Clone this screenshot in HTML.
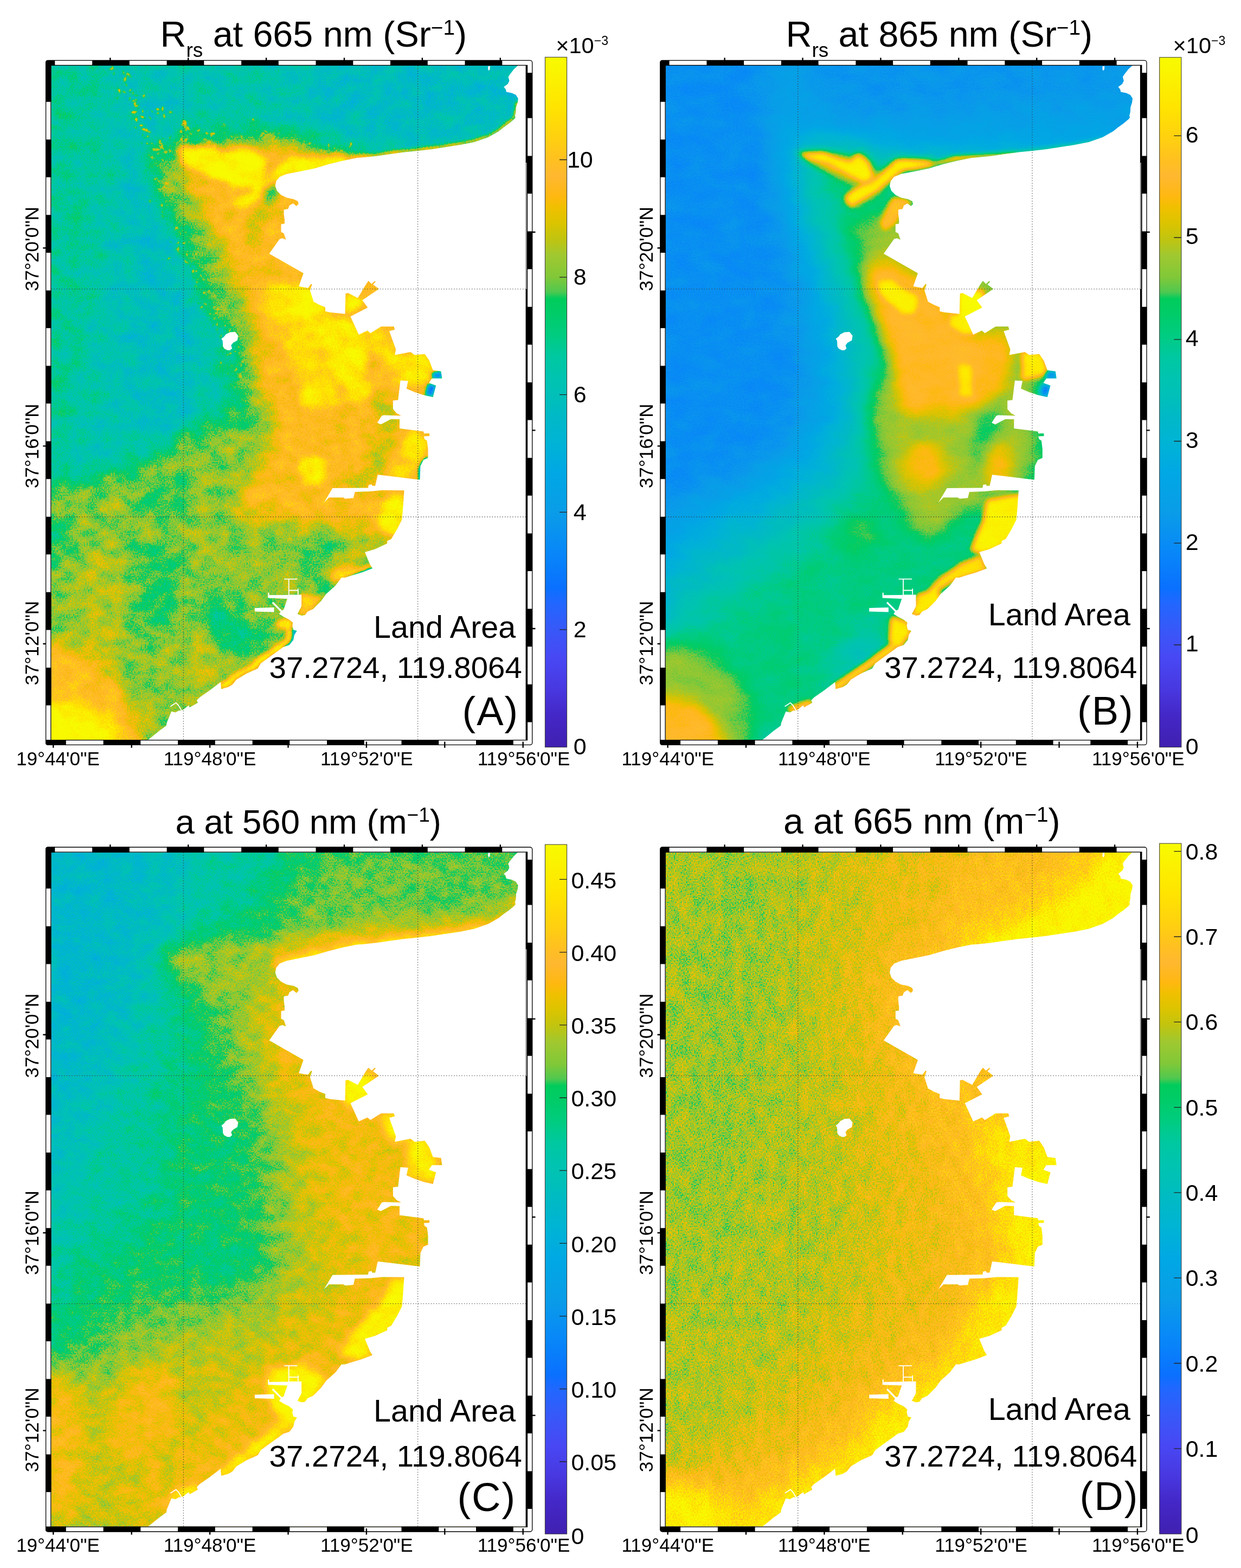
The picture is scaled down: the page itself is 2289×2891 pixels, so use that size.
<!DOCTYPE html>
<html lang="en"><head><meta charset="utf-8"><title>Rrs and absorption maps</title>
<style>html,body{margin:0;padding:0;background:#fff}body{width:2289px;height:2891px;overflow:hidden}svg{display:block}text{font-family:"Liberation Sans",sans-serif;fill:#000}</style>
</head><body>
<svg width="2289" height="2891" viewBox="0 0 2289 2891">
<defs>
<linearGradient id="cb" x1="0" y1="1" x2="0" y2="0">
<stop offset="0.000" stop-color="#4020b0"/>
<stop offset="0.048" stop-color="#4428c8"/>
<stop offset="0.084" stop-color="#4838e0"/>
<stop offset="0.129" stop-color="#4848f4"/>
<stop offset="0.170" stop-color="#3858f8"/>
<stop offset="0.211" stop-color="#2068ff"/>
<stop offset="0.230" stop-color="#0a70ff"/>
<stop offset="0.284" stop-color="#0888f8"/>
<stop offset="0.340" stop-color="#0a9ce8"/>
<stop offset="0.399" stop-color="#00a8e4"/>
<stop offset="0.445" stop-color="#00b4d4"/>
<stop offset="0.476" stop-color="#00b8c8"/>
<stop offset="0.511" stop-color="#00c0b8"/>
<stop offset="0.536" stop-color="#00c4b0"/>
<stop offset="0.567" stop-color="#00c8a0"/>
<stop offset="0.598" stop-color="#00cc80"/>
<stop offset="0.629" stop-color="#00cc68"/>
<stop offset="0.650" stop-color="#00cc5c"/>
<stop offset="0.660" stop-color="#50c850"/>
<stop offset="0.681" stop-color="#80c838"/>
<stop offset="0.713" stop-color="#a0c830"/>
<stop offset="0.736" stop-color="#c0c410"/>
<stop offset="0.760" stop-color="#dcc400"/>
<stop offset="0.783" stop-color="#f0c000"/>
<stop offset="0.798" stop-color="#ffb810"/>
<stop offset="0.828" stop-color="#ffb830"/>
<stop offset="0.851" stop-color="#ffc020"/>
<stop offset="0.882" stop-color="#ffd010"/>
<stop offset="0.928" stop-color="#ffe400"/>
<stop offset="1.000" stop-color="#f8fb00"/>
</linearGradient>
<filter id="cmA" filterUnits="userSpaceOnUse" x="92.5" y="119" width="880.5" height="1247" color-interpolation-filters="sRGB">
<feTurbulence type="fractalNoise" baseFrequency="0.4" numOctaves="1" seed="3" result="n"/>
<feColorMatrix in="n" type="matrix" values="1 0 0 0 0 1 0 0 0 0 1 0 0 0 0 0 0 0 0 1" result="ng"/>
<feComposite in="SourceGraphic" in2="ng" operator="arithmetic" k1="0" k2="1" k3="0.18" k4="-0.09" result="v"/>
<feTurbulence type="fractalNoise" baseFrequency="0.031 0.039" numOctaves="3" seed="23" result="m"/>
<feColorMatrix in="m" type="matrix" values="1 0 0 0 0 1 0 0 0 0 1 0 0 0 0 0 0 0 0 1" result="mg"/>
<feComposite in="v" in2="mg" operator="arithmetic" k1="0" k2="1" k3="0.16" k4="-0.08" result="v"/>
<feComponentTransfer in="v"><feFuncR type="table" tableValues="0.251 0.256 0.261 0.266 0.273 0.280 0.282 0.282 0.282 0.265 0.241 0.215 0.179 0.144 0.090 0.039 0.036 0.034 0.032 0.033 0.035 0.038 0.037 0.026 0.016 0.006 0.000 0.000 0.000 0.000 0.000 0.000 0.000 0.000 0.000 0.000 0.000 0.000 0.000 0.000 0.000 0.000 0.196 0.420 0.527 0.589 0.659 0.744 0.817 0.882 0.935 0.996 1.000 1.000 1.000 1.000 1.000 1.000 1.000 1.000 0.996 0.990 0.984 0.979 0.973"/><feFuncG type="table" tableValues="0.125 0.136 0.146 0.156 0.182 0.209 0.233 0.255 0.277 0.300 0.324 0.348 0.372 0.396 0.421 0.447 0.474 0.501 0.529 0.551 0.573 0.595 0.615 0.627 0.640 0.652 0.666 0.682 0.698 0.710 0.718 0.729 0.743 0.756 0.766 0.774 0.782 0.790 0.798 0.800 0.800 0.800 0.790 0.784 0.784 0.784 0.780 0.770 0.769 0.765 0.754 0.724 0.722 0.722 0.743 0.770 0.802 0.830 0.857 0.884 0.906 0.926 0.945 0.965 0.984"/><feFuncB type="table" tableValues="0.690 0.721 0.751 0.782 0.822 0.863 0.895 0.923 0.950 0.961 0.967 0.974 0.984 0.995 1.000 0.998 0.990 0.982 0.974 0.958 0.941 0.923 0.909 0.905 0.900 0.896 0.884 0.863 0.842 0.819 0.795 0.769 0.741 0.716 0.696 0.668 0.637 0.582 0.519 0.467 0.420 0.382 0.331 0.261 0.213 0.198 0.157 0.072 0.026 0.000 0.000 0.058 0.123 0.188 0.145 0.109 0.077 0.051 0.030 0.008 0.000 0.000 0.000 0.000 0.000"/><feFuncA type="linear" slope="0" intercept="1"/></feComponentTransfer>
</filter>
<filter id="cmB" filterUnits="userSpaceOnUse" x="92.5" y="119" width="880.5" height="1247" color-interpolation-filters="sRGB">
<feTurbulence type="fractalNoise" baseFrequency="0.4" numOctaves="1" seed="5" result="n"/>
<feColorMatrix in="n" type="matrix" values="1 0 0 0 0 1 0 0 0 0 1 0 0 0 0 0 0 0 0 1" result="ng"/>
<feComposite in="SourceGraphic" in2="ng" operator="arithmetic" k1="0" k2="1" k3="0.07" k4="-0.035" result="v"/>
<feTurbulence type="fractalNoise" baseFrequency="0.021 0.033" numOctaves="3" seed="25" result="m"/>
<feColorMatrix in="m" type="matrix" values="1 0 0 0 0 1 0 0 0 0 1 0 0 0 0 0 0 0 0 1" result="mg"/>
<feComposite in="v" in2="mg" operator="arithmetic" k1="0" k2="1" k3="0.06" k4="-0.03" result="v"/>
<feComponentTransfer in="v"><feFuncR type="table" tableValues="0.251 0.256 0.261 0.266 0.273 0.280 0.282 0.282 0.282 0.265 0.241 0.215 0.179 0.144 0.090 0.039 0.036 0.034 0.032 0.033 0.035 0.038 0.037 0.026 0.016 0.006 0.000 0.000 0.000 0.000 0.000 0.000 0.000 0.000 0.000 0.000 0.000 0.000 0.000 0.000 0.000 0.000 0.196 0.420 0.527 0.589 0.659 0.744 0.817 0.882 0.935 0.996 1.000 1.000 1.000 1.000 1.000 1.000 1.000 1.000 0.996 0.990 0.984 0.979 0.973"/><feFuncG type="table" tableValues="0.125 0.136 0.146 0.156 0.182 0.209 0.233 0.255 0.277 0.300 0.324 0.348 0.372 0.396 0.421 0.447 0.474 0.501 0.529 0.551 0.573 0.595 0.615 0.627 0.640 0.652 0.666 0.682 0.698 0.710 0.718 0.729 0.743 0.756 0.766 0.774 0.782 0.790 0.798 0.800 0.800 0.800 0.790 0.784 0.784 0.784 0.780 0.770 0.769 0.765 0.754 0.724 0.722 0.722 0.743 0.770 0.802 0.830 0.857 0.884 0.906 0.926 0.945 0.965 0.984"/><feFuncB type="table" tableValues="0.690 0.721 0.751 0.782 0.822 0.863 0.895 0.923 0.950 0.961 0.967 0.974 0.984 0.995 1.000 0.998 0.990 0.982 0.974 0.958 0.941 0.923 0.909 0.905 0.900 0.896 0.884 0.863 0.842 0.819 0.795 0.769 0.741 0.716 0.696 0.668 0.637 0.582 0.519 0.467 0.420 0.382 0.331 0.261 0.213 0.198 0.157 0.072 0.026 0.000 0.000 0.058 0.123 0.188 0.145 0.109 0.077 0.051 0.030 0.008 0.000 0.000 0.000 0.000 0.000"/><feFuncA type="linear" slope="0" intercept="1"/></feComponentTransfer>
</filter>
<filter id="cmC" filterUnits="userSpaceOnUse" x="92.5" y="119" width="880.5" height="1247" color-interpolation-filters="sRGB">
<feTurbulence type="fractalNoise" baseFrequency="0.4" numOctaves="1" seed="7" result="n"/>
<feColorMatrix in="n" type="matrix" values="1 0 0 0 0 1 0 0 0 0 1 0 0 0 0 0 0 0 0 1" result="ng"/>
<feComposite in="SourceGraphic" in2="ng" operator="arithmetic" k1="0" k2="1" k3="0.18" k4="-0.09" result="v"/>
<feTurbulence type="fractalNoise" baseFrequency="0.037 0.045" numOctaves="3" seed="27" result="m"/>
<feColorMatrix in="m" type="matrix" values="1 0 0 0 0 1 0 0 0 0 1 0 0 0 0 0 0 0 0 1" result="mg"/>
<feComposite in="v" in2="mg" operator="arithmetic" k1="0" k2="1" k3="0.13" k4="-0.065" result="v"/>
<feComponentTransfer in="v"><feFuncR type="table" tableValues="0.251 0.256 0.261 0.266 0.273 0.280 0.282 0.282 0.282 0.265 0.241 0.215 0.179 0.144 0.090 0.039 0.036 0.034 0.032 0.033 0.035 0.038 0.037 0.026 0.016 0.006 0.000 0.000 0.000 0.000 0.000 0.000 0.000 0.000 0.000 0.000 0.000 0.000 0.000 0.000 0.000 0.000 0.196 0.420 0.527 0.589 0.659 0.744 0.817 0.882 0.935 0.996 1.000 1.000 1.000 1.000 1.000 1.000 1.000 1.000 0.996 0.990 0.984 0.979 0.973"/><feFuncG type="table" tableValues="0.125 0.136 0.146 0.156 0.182 0.209 0.233 0.255 0.277 0.300 0.324 0.348 0.372 0.396 0.421 0.447 0.474 0.501 0.529 0.551 0.573 0.595 0.615 0.627 0.640 0.652 0.666 0.682 0.698 0.710 0.718 0.729 0.743 0.756 0.766 0.774 0.782 0.790 0.798 0.800 0.800 0.800 0.790 0.784 0.784 0.784 0.780 0.770 0.769 0.765 0.754 0.724 0.722 0.722 0.743 0.770 0.802 0.830 0.857 0.884 0.906 0.926 0.945 0.965 0.984"/><feFuncB type="table" tableValues="0.690 0.721 0.751 0.782 0.822 0.863 0.895 0.923 0.950 0.961 0.967 0.974 0.984 0.995 1.000 0.998 0.990 0.982 0.974 0.958 0.941 0.923 0.909 0.905 0.900 0.896 0.884 0.863 0.842 0.819 0.795 0.769 0.741 0.716 0.696 0.668 0.637 0.582 0.519 0.467 0.420 0.382 0.331 0.261 0.213 0.198 0.157 0.072 0.026 0.000 0.000 0.058 0.123 0.188 0.145 0.109 0.077 0.051 0.030 0.008 0.000 0.000 0.000 0.000 0.000"/><feFuncA type="linear" slope="0" intercept="1"/></feComponentTransfer>
</filter>
<filter id="cmD" filterUnits="userSpaceOnUse" x="92.5" y="119" width="880.5" height="1247" color-interpolation-filters="sRGB">
<feTurbulence type="fractalNoise" baseFrequency="0.4" numOctaves="1" seed="9" result="n"/>
<feColorMatrix in="n" type="matrix" values="1 0 0 0 0 1 0 0 0 0 1 0 0 0 0 0 0 0 0 1" result="ng"/>
<feComposite in="SourceGraphic" in2="ng" operator="arithmetic" k1="0" k2="1" k3="0.3" k4="-0.15" result="v"/>
<feTurbulence type="fractalNoise" baseFrequency="0.05 0.03" numOctaves="3" seed="29" result="m"/>
<feColorMatrix in="m" type="matrix" values="1 0 0 0 0 1 0 0 0 0 1 0 0 0 0 0 0 0 0 1" result="mg"/>
<feComposite in="v" in2="mg" operator="arithmetic" k1="0" k2="1" k3="0.12" k4="-0.06" result="v"/>
<feComponentTransfer in="v"><feFuncR type="table" tableValues="0.251 0.256 0.261 0.266 0.273 0.280 0.282 0.282 0.282 0.265 0.241 0.215 0.179 0.144 0.090 0.039 0.036 0.034 0.032 0.033 0.035 0.038 0.037 0.026 0.016 0.006 0.000 0.000 0.000 0.000 0.000 0.000 0.000 0.000 0.000 0.000 0.000 0.000 0.000 0.000 0.000 0.000 0.196 0.420 0.527 0.589 0.659 0.744 0.817 0.882 0.935 0.996 1.000 1.000 1.000 1.000 1.000 1.000 1.000 1.000 0.996 0.990 0.984 0.979 0.973"/><feFuncG type="table" tableValues="0.125 0.136 0.146 0.156 0.182 0.209 0.233 0.255 0.277 0.300 0.324 0.348 0.372 0.396 0.421 0.447 0.474 0.501 0.529 0.551 0.573 0.595 0.615 0.627 0.640 0.652 0.666 0.682 0.698 0.710 0.718 0.729 0.743 0.756 0.766 0.774 0.782 0.790 0.798 0.800 0.800 0.800 0.790 0.784 0.784 0.784 0.780 0.770 0.769 0.765 0.754 0.724 0.722 0.722 0.743 0.770 0.802 0.830 0.857 0.884 0.906 0.926 0.945 0.965 0.984"/><feFuncB type="table" tableValues="0.690 0.721 0.751 0.782 0.822 0.863 0.895 0.923 0.950 0.961 0.967 0.974 0.984 0.995 1.000 0.998 0.990 0.982 0.974 0.958 0.941 0.923 0.909 0.905 0.900 0.896 0.884 0.863 0.842 0.819 0.795 0.769 0.741 0.716 0.696 0.668 0.637 0.582 0.519 0.467 0.420 0.382 0.331 0.261 0.213 0.198 0.157 0.072 0.026 0.000 0.000 0.058 0.123 0.188 0.145 0.109 0.077 0.051 0.030 0.008 0.000 0.000 0.000 0.000 0.000"/><feFuncA type="linear" slope="0" intercept="1"/></feComponentTransfer>
</filter>
<filter id="b1" filterUnits="userSpaceOnUse" x="-55.5" y="-29" width="1176.5" height="1543" color-interpolation-filters="sRGB"><feGaussianBlur stdDeviation="1"/></filter>
<filter id="b3" filterUnits="userSpaceOnUse" x="-55.5" y="-29" width="1176.5" height="1543" color-interpolation-filters="sRGB"><feGaussianBlur stdDeviation="3"/></filter>
<filter id="b5" filterUnits="userSpaceOnUse" x="-55.5" y="-29" width="1176.5" height="1543" color-interpolation-filters="sRGB"><feGaussianBlur stdDeviation="5"/></filter>
<filter id="b7" filterUnits="userSpaceOnUse" x="-55.5" y="-29" width="1176.5" height="1543" color-interpolation-filters="sRGB"><feGaussianBlur stdDeviation="7"/></filter>
<filter id="b8" filterUnits="userSpaceOnUse" x="-55.5" y="-29" width="1176.5" height="1543" color-interpolation-filters="sRGB"><feGaussianBlur stdDeviation="8"/></filter>
<filter id="b12" filterUnits="userSpaceOnUse" x="-55.5" y="-29" width="1176.5" height="1543" color-interpolation-filters="sRGB"><feGaussianBlur stdDeviation="12"/></filter>
<filter id="b14" filterUnits="userSpaceOnUse" x="-55.5" y="-29" width="1176.5" height="1543" color-interpolation-filters="sRGB"><feGaussianBlur stdDeviation="14"/></filter>
<filter id="b15" filterUnits="userSpaceOnUse" x="-55.5" y="-29" width="1176.5" height="1543" color-interpolation-filters="sRGB"><feGaussianBlur stdDeviation="15"/></filter>
<filter id="b20" filterUnits="userSpaceOnUse" x="-55.5" y="-29" width="1176.5" height="1543" color-interpolation-filters="sRGB"><feGaussianBlur stdDeviation="20"/></filter>
<filter id="b25" filterUnits="userSpaceOnUse" x="-55.5" y="-29" width="1176.5" height="1543" color-interpolation-filters="sRGB"><feGaussianBlur stdDeviation="25"/></filter>
<filter id="b30" filterUnits="userSpaceOnUse" x="-55.5" y="-29" width="1176.5" height="1543" color-interpolation-filters="sRGB"><feGaussianBlur stdDeviation="30"/></filter>
<filter id="b35" filterUnits="userSpaceOnUse" x="-55.5" y="-29" width="1176.5" height="1543" color-interpolation-filters="sRGB"><feGaussianBlur stdDeviation="35"/></filter>
<clipPath id="fo"><rect x="83.9" y="110.7" width="898.4" height="1263.3" rx="4.5"/></clipPath>
<clipPath id="pc"><rect x="94.5" y="121" width="876.5" height="1243"/></clipPath>
<g id="land" fill="#fff" stroke="none">
<polygon points="955.2,121 947.8,127.8 939.9,138 937.6,141.7 939.5,149.1 936.7,154.7 929.3,160.3 933,164.9 933.9,169.5 944.1,171.4 951.5,175.1 955.7,181.6 954.8,189 952,197.4 951.5,206.6 949.7,214 951,216 948.7,219.6 938.5,228 929.3,234.4 920,241.9 900.6,253 874.9,262 849.1,267.1 823.4,271 797.6,274.9 771.8,278 746.1,280.5 720.3,283.9 694.6,287.7 668.8,290.3 657.6,291.2 631.8,296.4 606.1,302.8 580.3,310.5 554.6,315.7 528.8,320.8 515.9,326 509.5,333.7 507.7,342.7 510.8,351.7 518.5,359.5 528.8,364.6 541.7,367.2 549.4,371.1 550.7,376.2 546.8,380.1 540.4,374.9 533.9,378.8 531.4,385.2 523.6,386.5 523.6,395.5 524.9,404.6 524.9,412.3 518.5,413.6 518.5,427.7 523.6,430.3 527.5,441.9 521.1,439.3 515.9,440.6 496.6,467.7 559.7,503.7 551.2,528.1 568.1,530.9 573.7,523.4 575.6,524.4 571.9,535.6 578.4,556.2 588.7,561.8 600,566.5 600,574 609.3,575.9 636.5,578.7 637.4,541.2 642.1,540.3 659.9,549.6 674.9,524.4 679.6,517.8 685.2,523.4 691.8,517.8 692.7,519.7 688,524.4 698.9,532.8 668.3,553.4 678.3,567.1 646.4,583.4 661.8,617.1 677.7,609.6 683.3,614.3 703,602.1 726.4,602.1 728.3,607.7 718,610.5 730.2,644.3 728.3,654.6 757.3,648.9 764.8,654.6 783.6,652.7 792,664.9 798.6,682.7 813.5,684.5 815.4,697.7 796.7,697.7 791.1,706.1 804.2,710.8 798.6,732.3 781.7,728.6 764.8,723 749.8,716.4 752.7,702.3 738.6,701.4 734.2,737.5 724.9,738.4 724.9,754.3 731.4,761.8 739.9,766.5 708,765.6 704.3,766.5 695.8,779.6 702.4,782.4 721.1,772.7 737,773.1 737,789.9 781.1,795.6 782,799.3 791.9,798.9 792.3,804 782,804.5 783,809.6 787.6,812.4 789.5,827.4 789.5,844.3 781.1,848 775.5,859.3 774.5,884.5 758.6,882.7 728.6,878.9 696.8,875.2 692.1,895.8 686.5,895.8 685.5,893 679.9,893.9 679,899.5 613.4,900.1 597.5,926.7 606.8,917.3 633.1,917.3 636.8,919.6 651.8,918.3 654.6,907 681.8,906.1 706.1,903.8 745.5,904.2 743.2,937.5 741.4,958.1 732.9,974.9 721.7,993.7 714.2,997.4 714.2,1002.1 691.7,1012.4 673,1018 682.3,1040.5 687,1048 667.4,1055.5 648.6,1061.1 636.4,1064.9 629.9,1064.9 618.6,1079.9 601.8,1094.9 592.4,1108 577.4,1122.9 567.4,1127.4 562.7,1134 556.1,1134.9 548.6,1132.1 556.1,1118.1 556.1,1096.5 532.7,1096.5 530,1104 523.3,1123.7 518.6,1126.5 514.9,1132.1 522.4,1136.8 533.6,1142.4 540.2,1148.1 539.3,1153.7 541.1,1161.2 547.7,1163 543,1170.5 541.1,1179.9 533.6,1189.3 522.4,1193 514.9,1198.6 501.8,1208 481.2,1223 475.5,1232.4 454.9,1241.7 436.2,1253 428.7,1262.3 421.1,1266.8 408,1270.5 407,1257.4 387.4,1272.4 368.6,1285.5 363,1291.1 364.9,1295.8 349.9,1304.3 348,1300.5 338.6,1308 334.9,1309.9 330.2,1309.9 323.7,1313.6 316.2,1311.8 312.4,1321.1 307.7,1332.4 306.8,1338 293.7,1347.4 282.4,1356.7 273.1,1364 273.1,1366 973,1366 973,119 955.2,119"/>
<polygon points="408.4,624.6 413.1,620.9 416.8,616.2 424.3,612.5 433.7,612 439.3,619 437.9,627.4 429.9,632.1 426.2,636.8 428.1,642.4 424.3,645.7 419.6,645.7 414,642.9 411.2,638.7 410.7,628.4"/>
<polygon points="494.3,1092.8 496.5,1092.8 496.5,1097.3 532.7,1097 530,1104 494.3,1102.6"/>
<polygon points="469.9,1120.9 505.5,1120 505.5,1128.4 469.9,1127.4"/>
<polygon points="900.5,122 904,122 903.5,128 901.5,130.5 900,127"/>
<path d="M502.7 1110.6L519.5 1127.5" stroke="#fff" stroke-width="3.2" fill="none"/>
<path d="M524.3 1067.6H548.6M532.7 1067.5V1097.5M533.6 1088.5H550.5M549.8 1085.3V1096" stroke="#fff" stroke-width="1.8" fill="none"/>
<path d="M314.3 1302.4L324.6 1295.8L329.3 1300.5L334.9 1309.9" stroke="#fff" stroke-width="1.8" fill="none"/>
</g>
<g id="frame"><path d="M83.9 110.7H982.3V1374H83.9Z M94.5 121.1H971.9V1364H94.5Z" fill="#fff" fill-rule="evenodd" stroke="none"/>
<rect x="84.6" y="111.4" width="897.1" height="1262" rx="4" fill="none" stroke="#000" stroke-width="1.3"/>
<rect x="93.8" y="120.4" width="878.7" height="1244.2" fill="none" stroke="#000" stroke-width="1.3"/>
<path d="M83.9 110.7H101.3V121.1H83.9ZM170.1 110.7H238.8V121.1H170.1ZM307.6 110.7H376.3V121.1H307.6ZM445.1 110.7H513.8V121.1H445.1ZM582.5 110.7H651.3V121.1H582.5ZM720 110.7H788.8V121.1H720ZM857.5 110.7H926.3V121.1H857.5ZM83.9 1364H121.8V1374H83.9ZM190.6 1364H259.3V1374H190.6ZM328.1 1364H396.8V1374H328.1ZM465.6 1364H534.3V1374H465.6ZM603 1364H671.8V1374H603ZM740.5 1364H809.3V1374H740.5ZM878 1364H946.8V1374H878ZM83.9 110.7H94.5V187.7H83.9ZM83.9 257.2H94.5V326.8H83.9ZM83.9 396.3H94.5V465.9H83.9ZM83.9 535.5H94.5V605H83.9ZM83.9 674.5H94.5V744.1H83.9ZM83.9 813.6H94.5V883.2H83.9ZM83.9 952.8H94.5V1022.3H83.9ZM83.9 1091.8H94.5V1161.4H83.9ZM83.9 1231H94.5V1300.5H83.9ZM971.9 134.3H982.3V217.8H971.9ZM971.9 287.4H982.3V357H971.9ZM971.9 426.6H982.3V496.2H971.9ZM971.9 565.8H982.3V635.4H971.9ZM971.9 705H982.3V774.6H971.9ZM971.9 844.2H982.3V913.8H971.9ZM971.9 983.4H982.3V1053H971.9ZM971.9 1122.6H982.3V1192.2H971.9ZM971.9 1261.8H982.3V1331.4H971.9Z" fill="#000" clip-path="url(#fo)"/>
<path d="M971.1 120.5V300M971.1 532.8V1364.6" stroke="#000" stroke-width="3" fill="none"/>
<path d="M970.6 300V532.8" stroke="#888" stroke-width="2.2" fill="none"/>
<path d="M972.4 300V532.8" stroke="#000" stroke-width="1.2" fill="none"/>
<path d="M98.3 1367.5V1378.8M242.7 1367.5V1378.8M387.1 1367.5V1378.8M531.5 1367.5V1378.8M675.9 1367.5V1378.8M820.3 1367.5V1378.8M964.7 1367.5V1378.8M203.3 106.6V112M347.2 106.6V112M491.1 106.6V112M635 106.6V112M778.9 106.6V112M922.8 106.6V112M79.3 457.2H85M79.3 822.4H85M79.3 1187H85M981 428H987.5M981 793.4H987.5M981 1159H987.5" stroke="#000" stroke-width="2.4" fill="none"/></g>
<g id="grid" stroke="#3a3a3a" stroke-opacity="0.8" stroke-width="1.3" stroke-dasharray="1.5 3.2" fill="none"><path d="M338.4 121V1364M770.6 121V1364M94.5 532.8H971M94.5 953H971"/></g>
<g id="axl"><g font-size="35">
<text x="387" y="1410.6" text-anchor="middle">119°48'0"E</text>
<text x="676.3" y="1410.6" text-anchor="middle">119°52'0"E</text>
<text x="966" y="1410.6" text-anchor="middle">119°56'0"E</text>
<text transform="translate(70.6 459) rotate(-90)" text-anchor="middle">37°20'0"N</text>
<text transform="translate(70.6 822.4) rotate(-90)" text-anchor="middle">37°16'0"N</text>
<text transform="translate(70.6 1185.7) rotate(-90)" text-anchor="middle">37°12'0"N</text>
</g></g>
</defs>
<rect width="2289" height="2891" fill="#fff"/>
<g transform="translate(0 0)">
<g clip-path="url(#pc)">
<g filter="url(#cmA)">
<rect x="92.5" y="119" width="880.5" height="1247" fill="#8a8a8a"/>
<g filter="url(#b35)">
<polygon fill="#939393" points="60,100 170,100 180,400 150,700 120,900 60,900"/>
<polygon fill="#7e7e7e" points="240,180 330,160 360,400 380,600 370,760 300,800 240,820 220,600"/>
<polygon fill="#7c7c7c" points="560,100 990,100 990,250 800,255 640,250 560,220"/>
</g>
<g filter="url(#b25)">
<polygon fill="#9c9c9c" points="255,267 299,247 343,232 416,226 504,234 560,245 610,268 650,285 700,300 900,330 900,1000 700,1100 600,1200 450,1300 280,1400 60,1400 60,895 94,895 182,880 270,850 328,814 357,790 400,760 400,700 398,650 395,616 383,578 370,560 360,521 345,482 330,444 310,406 292,368 285,340 270,300 255,282"/>
<ellipse fill="#8f8f8f" cx="425" cy="640" rx="40" ry="60"/>
</g>
<g filter="url(#b20)">
<polygon fill="#b2b2b2" points="296,285 340,276 387,267 445,260 504,256 550,262 600,280 640,292 700,305 850,330 850,1000 700,1030 620,1100 520,1250 280,1400 60,1400 60,907 182,890 270,858 328,820 387,790 431,776 475,799 478,770 460,741 450,720 438,680 440,650 440,612 400,578 385,545 379,521 368,482 353,444 330,406 307,368 288,330 290,300"/>
<polygon fill="#a2a2a2" points="240,1009 299,994 343,1038 328,1126 284,1184 255,1155 255,1067"/>
<polygon fill="#9a9a9a" points="370,1090 400,1100 445,1126 489,1155 500,1190 470,1215 430,1215 400,1180 375,1141"/>
<polygon fill="#9e9e9e" points="94,940 130,950 125,1040 94,1050 60,1040 60,940"/>
<polygon fill="#9e9e9e" points="585,990 625,984 640,1010 630,1040 600,1075 575,1070"/>
<ellipse fill="#a1a1a1" cx="300" cy="920" rx="60" ry="30" transform="rotate(-20 300 920)"/>
</g>
<g filter="url(#b15)">
<polygon fill="#d1d1d1" points="341,296 400,282 445,272 504,268 550,272 595,288 630,296 700,310 850,330 850,900 760,1000 720,995 680,985 640,975 600,968 560,965 520,962 480,955 450,945 431,935 460,887 489,843 504,799 498,770 480,730 474,673 474,616 459,578 455,540 436,521 420,482 406,444 380,406 360,368 345,330"/>
<ellipse fill="#b8b8b8" cx="190" cy="1080" rx="55" ry="80"/>
<ellipse fill="#bababa" cx="375" cy="1235" rx="50" ry="45"/>
<ellipse fill="#bdbdbd" cx="160" cy="1200" rx="60" ry="40"/>
<ellipse fill="#c7c7c7" cx="640" cy="1040" rx="35" ry="25" transform="rotate(-25 640 1040)"/>
<polygon fill="#d6d6d6" points="60,1184 167,1214 226,1272 255,1331 270,1400 60,1400"/>
<polyline fill="none" stroke="#b2b2b2" stroke-width="22" stroke-linecap="round" stroke-linejoin="round" points="705,735 712,800 690,860 650,895"/>
<polyline fill="none" stroke="#b8b8b8" stroke-width="18" stroke-linecap="round" stroke-linejoin="round" points="500,330 490,380 470,430"/>
</g>
<g filter="url(#b12)">
<polygon fill="#ffffff" points="60,1290 138,1297 182,1318 211,1346 226,1400 60,1400"/>
<polygon fill="#ebebeb" points="478.4,539.2 520.5,527.9 562.7,533.5 576.7,561.6 604.8,575.7 633,578.5 649.8,595.4 661.1,617.9 675.1,609.4 703.2,603.8 717.3,623.5 728.5,646 759.4,651.6 787.5,654.4 796,674.1 773.5,699.9 731.3,699.9 703.2,665.6 675.1,637.5 647,651.6 618.9,699.9 548.6,699.9 534.6,651.6 506.5,595.4 478.4,567.3"/>
</g>
<g filter="url(#b1)">
<polygon fill="#bcbcbc" points="293,268 296.6,273.9 303.4,275.1 299.8,269.2"/>
<polygon fill="#bbbbbb" points="233.6,141 228.7,145.8 228.4,152.7 233.3,147.9"/>
<polygon fill="#bfbfbf" points="276.3,264.3 279,266 282.1,264.9 279.3,263.2"/>
<polygon fill="#bcbcbc" points="263.2,199.3 261,204.6 263.3,210 265.5,204.6"/>
<polygon fill="#b8b8b8" points="291,256.6 292.7,262.2 297.2,266 295.6,260.3"/>
<polygon fill="#b3b3b3" points="284.1,289.1 279.6,287.7 275.6,290.2 280.1,291.6"/>
<polygon fill="#b8b8b8" points="234.8,135 232.4,137.2 232.4,140.5 234.8,138.3"/>
<polygon fill="#b4b4b4" points="269.1,204.1 270.8,206.9 273.6,208.5 272,205.7"/>
<polygon fill="#bababa" points="258.2,190.6 251.5,193.3 248,199.6 254.7,196.9"/>
<polygon fill="#b3b3b3" points="296.7,255.1 291.5,260.6 292.8,268.1 298,262.6"/>
<polygon fill="#b3b3b3" points="264.5,253.3 266.5,255.4 269.5,255.8 267.5,253.6"/>
<polygon fill="#bfbfbf" points="257,214.4 262.3,216.4 267.7,214.9 262.4,212.8"/>
<polygon fill="#c3c3c3" points="268.3,263 270.6,266 274.4,266.2 272.1,263.1"/>
<polygon fill="#b4b4b4" points="231.1,151.5 231.1,157.4 234.9,161.9 235,156"/>
<polygon fill="#c5c5c5" points="206,119.2 206,125.3 209.8,130 209.8,123.9"/>
<polygon fill="#bfbfbf" points="280.3,202.9 279.1,206.2 280.7,209.3 281.8,206"/>
<polygon fill="#b3b3b3" points="267.7,194.6 267.6,197.7 269.3,200.3 269.4,197.2"/>
<polygon fill="#c1c1c1" points="261.3,213.4 260.8,216.8 262.3,219.8 262.9,216.5"/>
<polygon fill="#bfbfbf" points="303,264.2 297.2,263.4 291.8,265.5 297.6,266.3"/>
<polygon fill="#c5c5c5" points="217.2,177.6 215.5,180.4 216.3,183.5 218,180.8"/>
<polygon fill="#c4c4c4" points="247.1,186.4 246,193.2 250.4,198.6 251.5,191.7"/>
<polygon fill="#b8b8b8" points="287.9,277.1 290.5,278.7 293.6,278.8 291,277.1"/>
<polygon fill="#c2c2c2" points="259.6,197.7 255.1,198.8 251.7,202.1 256.3,201"/>
<polygon fill="#c5c5c5" points="251.8,215.2 249.6,220.8 251.9,226.4 254.1,220.8"/>
<polygon fill="#c5c5c5" points="233,141.5 228.5,143.7 226.1,148.2 230.7,146"/>
<polygon fill="#c4c4c4" points="244.2,163.7 239.3,164.5 236.9,168.8 241.8,168"/>
<polygon fill="#c1c1c1" points="249.6,183.4 244.4,183.9 241.3,188.1 246.6,187.7"/>
<polygon fill="#c0c0c0" points="217.6,161.3 217.7,167.9 222.1,172.8 222,166.2"/>
<polygon fill="#b9b9b9" points="274.3,201.4 271.7,202.9 270.9,205.8 273.5,204.3"/>
<polygon fill="#c7c7c7" points="253.5,186.6 249.5,187.7 247.6,191.4 251.6,190.3"/>
<polygon fill="#c3c3c3" points="246.3,234.2 250.1,236.4 254.5,236.2 250.7,234"/>
<polygon fill="#bebebe" points="247.7,173.1 249,175.9 252,176.8 250.7,174"/>
<polygon fill="#bcbcbc" points="276.5,250.1 271.8,250.2 268.2,253 272.9,253"/>
<polygon fill="#c0c0c0" points="210.9,126.4 204.6,125.3 199,128.5 205.3,129.6"/>
<polygon fill="#c7c7c7" points="232.2,133.1 235,138.7 241.1,140.1 238.3,134.5"/>
<polygon fill="#b3b3b3" points="299.8,280.9 305.4,283.3 311.1,281.5 305.6,279"/>
<polygon fill="#b3b3b3" points="286.3,290.2 282.5,290.5 279.8,293.1 283.6,292.9"/>
<polygon fill="#c4c4c4" points="268,172.8 263.9,176 262.8,181 266.9,177.9"/>
<polygon fill="#c5c5c5" points="224.9,167.1 228.3,171.2 233.6,172 230.2,167.9"/>
<polygon fill="#bebebe" points="273.7,213.2 275.4,218.3 279.7,221.7 277.9,216.6"/>
<polygon fill="#b3b3b3" points="283.2,273.1 283.3,275.9 285.2,278 285.2,275.2"/>
<polygon fill="#bbbbbb" points="279.7,274.9 284.7,278.1 290.6,277.2 285.6,273.9"/>
<polygon fill="#bdbdbd" points="253.7,205.6 246.8,203.8 241.1,208.1 248,209.9"/>
<polygon fill="#b6b6b6" points="257.6,175.9 251.9,174.9 246.4,176.7 252.1,177.8"/>
<polygon fill="#bdbdbd" points="250.5,217.1 247.8,218.8 246.4,221.7 249.1,220"/>
<polygon fill="#bdbdbd" points="255.3,181.6 249.6,182.5 246.2,187.2 251.8,186.2"/>
<polygon fill="#bababa" points="273,262.7 269.6,262.2 266.8,264.4 270.3,264.8"/>
<polygon fill="#c5c5c5" points="258.2,212.9 262.1,217.6 267.9,219.7 264,214.9"/>
<polygon fill="#bbbbbb" points="236.5,138 232.3,139.8 229.5,143.5 233.8,141.7"/>
<polygon fill="#c2c2c2" points="202.8,107.9 208.1,112.7 215.3,112.7 209.9,108"/>
<polygon fill="#b6b6b6" points="245.1,140.2 239.5,139.8 235.1,143.2 240.7,143.6"/>
<polygon fill="#c0c0c0" points="246.7,166.6 243.8,171.5 243.9,177.2 246.8,172.2"/>
<polygon fill="#c1c1c1" points="211.3,131.5 208.8,135.4 208.5,139.9 211,136.1"/>
<polygon fill="#c3c3c3" points="241.4,175.2 237.6,180.8 237.1,187.5 240.9,181.9"/>
<polygon fill="#bdbdbd" points="226.7,129 226.2,134.7 229.8,139.2 230.3,133.5"/>
<polygon fill="#b9b9b9" points="270.4,217.1 267,216.9 263.9,218.5 267.4,218.7"/>
<polygon fill="#b3b3b3" points="259.5,261.1 260,264.2 262.4,266.3 261.9,263.2"/>
<polygon fill="#b6b6b6" points="271.4,283.5 273.6,287.1 277.5,288.5 275.3,284.9"/>
<polygon fill="#b5b5b5" points="261.9,246 261.8,249.4 264,252 264.1,248.6"/>
<polygon fill="#b8b8b8" points="238.8,167.3 239.2,170.9 241.5,173.7 241,170.2"/>
<polygon fill="#c8c8c8" points="341.7,229.3 342,232.2 343.8,234.3 343.6,231.5"/>
<polygon fill="#b9b9b9" points="261.1,235.9 264,239.9 268.9,240.2 266.1,236.2"/>
<polygon fill="#c8c8c8" points="285,199.8 290,204.2 296.6,203.1 291.6,198.7"/>
<polygon fill="#bebebe" points="267.5,229 267.3,232.2 269,235 269.1,231.8"/>
<polygon fill="#c5c5c5" points="271.5,241.8 275.6,244.9 280.8,244.3 276.6,241.2"/>
<polygon fill="#bdbdbd" points="335.6,229.3 337.3,232.1 340.6,232.7 338.9,229.9"/>
<polygon fill="#c2c2c2" points="346.2,231.7 344.2,235.8 345.9,240.1 348,236"/>
<polygon fill="#c7c7c7" points="313.3,202.3 312.9,206.1 314.9,209.3 315.3,205.5"/>
<polygon fill="#b9b9b9" points="278.6,201 279,205.2 282.2,207.8 281.8,203.7"/>
<polygon fill="#bbbbbb" points="338.3,219.3 335.4,226.1 339.1,232.6 341.9,225.7"/>
<polygon fill="#c8c8c8" points="265.8,230.6 260.3,229 255.6,232.3 261.1,233.9"/>
<polygon fill="#bbbbbb" points="290.6,204.9 290.8,208.2 293.3,210.6 293.1,207.2"/>
<polygon fill="#cbcbcb" points="346.1,233.5 342.9,237.2 342.4,242.1 345.6,238.4"/>
<polygon fill="#c1c1c1" points="267.3,235.7 262.9,235.9 259.9,239.1 264.3,238.9"/>
<polygon fill="#bababa" points="312.2,202.9 310.9,205.5 311.2,208.3 312.6,205.8"/>
<polygon fill="#b8b8b8" points="320.4,206.5 314.5,205.9 309.3,208.7 315.2,209.4"/>
<polygon fill="#c3c3c3" points="345.7,231.5 345.7,236 349,239.1 349,234.6"/>
<polygon fill="#bfbfbf" points="300.4,194 296.8,200.1 299,206.8 302.6,200.7"/>
<polygon fill="#bcbcbc" points="302.8,208.6 300.7,214.2 303.1,219.7 305.2,214.1"/>
<polygon fill="#c6c6c6" points="268.2,239.2 268.6,242.4 271.2,244.4 270.8,241.1"/>
<polygon fill="#c1c1c1" points="335.8,228.5 339.8,230.4 344.2,229.3 340.1,227.3"/>
<polygon fill="#bfbfbf" points="294.4,208.9 290.2,208.6 286.4,210.3 290.6,210.6"/>
<polygon fill="#c2c2c2" points="345.9,237.9 342.5,237.8 339.7,239.9 343.1,239.9"/>
<polygon fill="#c8c8c8" points="340.5,221.6 339.8,227.9 343.9,232.9 344.6,226.5"/>
<polygon fill="#bebebe" points="270,235.7 270.4,241.7 275,245.5 274.6,239.5"/>
<polygon fill="#c0c0c0" points="340.2,234.3 344.7,238.8 351.1,239.3 346.6,234.7"/>
<polygon fill="#bbbbbb" points="344.1,221.1 337.8,222.9 334.5,228.5 340.8,226.7"/>
<polygon fill="#c0c0c0" points="342,230.3 339.1,233.9 338.8,238.5 341.7,234.9"/>
<polygon fill="#cbcbcb" points="332.9,228.4 335,231.3 338.3,232.5 336.3,229.6"/>
<polygon fill="#c7c7c7" points="272.9,239.1 267.1,236.7 261.6,239.8 267.4,242.1"/>
<polygon fill="#bcbcbc" points="440.1,229.5 441.7,232 444.4,233.3 442.8,230.8"/>
<polygon fill="#cccccc" points="349.7,245.6 351.5,247.4 354,247.4 352.2,245.6"/>
<polygon fill="#bababa" points="348.4,236.3 347.7,239.5 349.3,242.4 349.9,239.2"/>
<polygon fill="#c0c0c0" points="444.5,248 444,252.2 446.2,255.8 446.7,251.6"/>
<polygon fill="#cccccc" points="294.7,257.8 294,261 295.7,263.9 296.4,260.6"/>
<polygon fill="#bdbdbd" points="502,257.8 502.4,261.3 504.7,264 504.3,260.5"/>
<polygon fill="#c4c4c4" points="481.5,243.9 484.9,247.1 489.6,247.5 486.2,244.3"/>
<polygon fill="#c1c1c1" points="455.6,257.2 454.4,260.2 455.7,263.2 456.9,260.2"/>
<polygon fill="#c4c4c4" points="379.4,241.3 379.8,246.2 383.6,249.5 383.2,244.5"/>
<polygon fill="#c6c6c6" points="386.2,264 383.8,267.5 383.9,271.8 386.4,268.3"/>
<polygon fill="#c5c5c5" points="361.8,270.6 363.4,272.9 365.8,274 364.3,271.8"/>
<polygon fill="#cacaca" points="512.2,244.2 512.9,246.9 515.2,248.6 514.5,245.8"/>
<polygon fill="#c2c2c2" points="503.2,250.5 505.5,253.2 509,253.6 506.7,250.9"/>
<polygon fill="#bdbdbd" points="381.2,255.7 377.1,255.2 373.9,257.8 378,258.3"/>
<polygon fill="#c0c0c0" points="431.5,264.7 430.8,269 433.3,272.6 434.1,268.3"/>
<polygon fill="#c1c1c1" points="506.2,250.7 502.3,254.5 501.5,259.8 505.3,256"/>
<polygon fill="#bbbbbb" points="374.6,245.3 377.1,246.7 380,246.2 377.5,244.9"/>
<polygon fill="#c3c3c3" points="441.8,257.3 440.8,259.9 441.9,262.5 442.9,259.9"/>
<polygon fill="#c7c7c7" points="297.9,294.8 299.5,297 302.2,297.2 300.6,295"/>
<polygon fill="#c8c8c8" points="386.2,246.1 390.8,248.8 396.2,248.3 391.5,245.6"/>
<polygon fill="#c4c4c4" points="389.1,244.1 388,249.5 390.9,254.1 392,248.7"/>
<polygon fill="#c3c3c3" points="335.7,256.6 335.8,260.2 337.8,263.1 337.7,259.6"/>
<polygon fill="#b9b9b9" points="314.9,264 314,266.2 314.6,268.6 315.5,266.3"/>
<polygon fill="#bababa" points="503.8,248.4 499.3,248.4 495.3,250.7 499.8,250.6"/>
<polygon fill="#bdbdbd" points="495.7,272.5 499.4,273.5 503,272.6 499.4,271.6"/>
<polygon fill="#c7c7c7" points="393.7,267.1 392.6,272.5 396.3,276.6 397.3,271.2"/>
<polygon fill="#c1c1c1" points="464,255.7 466.4,259 470.4,260.2 468,256.8"/>
<polygon fill="#bebebe" points="334.7,270 337,272 340.1,271.8 337.7,269.8"/>
<polygon fill="#c9c9c9" points="304.8,254.9 301.1,254.5 297.7,255.8 301.3,256.3"/>
<polygon fill="#c2c2c2" points="468.1,252.4 464.1,252.1 460.7,254.2 464.6,254.5"/>
<polygon fill="#c4c4c4" points="347.7,256.4 342.4,255.9 338.2,259.3 343.6,259.8"/>
<polygon fill="#c9c9c9" points="397.9,245.4 392.4,244.2 388,247.6 393.4,248.7"/>
<polygon fill="#b9b9b9" points="373,247.7 370.5,249.1 369.5,251.8 372.1,250.5"/>
<polygon fill="#c0c0c0" points="334.7,252.3 332.9,257.1 334.7,261.8 336.6,257.1"/>
<polygon fill="#c1c1c1" points="411.5,225.6 412.1,230.1 414.8,233.6 414.2,229.2"/>
<polygon fill="#c7c7c7" points="466.1,216.4 465.7,220.3 468.1,223.4 468.5,219.5"/>
<polygon fill="#cbcbcb" points="423.8,257.6 420.5,256.9 417.4,258.2 420.7,258.8"/>
<polygon fill="#bfbfbf" points="303.3,269.1 305.5,270.8 308.2,271.2 306,269.5"/>
<polygon fill="#cacaca" points="425.2,250.4 426.3,252.7 428.8,253.6 427.6,251.3"/>
<polygon fill="#c2c2c2" points="332.9,256.9 331.2,258.8 331.1,261.5 332.9,259.5"/>
<polygon fill="#c3c3c3" points="312.2,267.8 313.2,270.9 316.1,272.5 315.1,269.4"/>
<polygon fill="#c7c7c7" points="457.4,269.8 459.8,270.9 462.4,270.6 460,269.5"/>
<polygon fill="#c3c3c3" points="381.6,261.4 385.3,263.9 389.7,262.6 385.9,260.1"/>
<polygon fill="#bababa" points="485.1,260.2 482.7,260.4 480.8,261.8 483.1,261.6"/>
<polygon fill="#c0c0c0" points="486.3,240.7 489.5,243.8 493.9,244.3 490.7,241.2"/>
<polygon fill="#bbbbbb" points="301,276.6 303.1,278.6 306.1,279.1 303.9,277.1"/>
<polygon fill="#c4c4c4" points="314.1,249.7 311.8,253.2 312.9,257.2 315.2,253.7"/>
<polygon fill="#bbbbbb" points="288.2,282.3 291.4,284.3 295,284.1 291.9,282.2"/>
<polygon fill="#c3c3c3" points="485.5,246.5 480.9,248.2 479.3,253 483.9,251.2"/>
<polygon fill="#c7c7c7" points="286.5,274.8 291.2,277.2 296.4,276.2 291.7,273.8"/>
<polygon fill="#c0c0c0" points="533.6,268.8 531.9,272.1 532.1,275.8 533.7,272.5"/>
<polygon fill="#cacaca" points="490.3,249.2 487,251.7 486,255.6 489.3,253.1"/>
<polygon fill="#c2c2c2" points="496.9,247.6 493.1,247 489.8,249 493.7,249.7"/>
<polygon fill="#c1c1c1" points="514.9,259.8 511.1,258.8 507.9,261.2 511.7,262.1"/>
<polygon fill="#c8c8c8" points="530.8,272.8 526.9,272.1 523.2,273.6 527.1,274.3"/>
<polygon fill="#c4c4c4" points="370,266.6 365.7,270.2 364.8,275.7 369.1,272.1"/>
<polygon fill="#c3c3c3" points="326.1,276.8 325.2,279.2 325.7,281.7 326.6,279.3"/>
<polygon fill="#c1c1c1" points="323.3,304.9 319.6,306 317.3,309.1 321,308"/>
<polygon fill="#c2c2c2" points="370.1,237.5 365.5,238.7 363.1,242.9 367.7,241.7"/>
<polygon fill="#c7c7c7" points="348.4,264.7 345.5,266.2 343.7,268.9 346.6,267.4"/>
<polygon fill="#c3c3c3" points="385.1,245.7 382.6,246.4 381.6,248.8 384.1,248.1"/>
<polygon fill="#cacaca" points="361,265.2 363,269.3 366.8,271.8 364.9,267.6"/>
<polygon fill="#cacaca" points="300.3,266 297.8,268.7 297.8,272.3 300.4,269.7"/>
<polygon fill="#bfbfbf" points="510.6,257.6 506.8,259.4 505.9,263.4 509.6,261.6"/>
<polygon fill="#bbbbbb" points="335.7,237.4 332,241.4 332.8,246.8 336.6,242.8"/>
<polygon fill="#c2c2c2" points="308.6,276.9 304.6,279.8 304,284.8 308.1,281.9"/>
<polygon fill="#c2c2c2" points="499.2,258.1 502.1,258.9 505,258.2 502.1,257.4"/>
<polygon fill="#b8b8b8" points="420.7,260.5 425,262.8 429.4,260.8 425.1,258.5"/>
<polygon fill="#c6c6c6" points="391.8,268.4 396.5,270.1 401.2,268.4 396.5,266.7"/>
<polygon fill="#c6c6c6" points="312.1,273.1 312.3,278.4 315.7,282.5 315.4,277.2"/>
<polygon fill="#c2c2c2" points="544.2,273.8 545.2,278.3 549.2,280.8 548.1,276.2"/>
<polygon fill="#bdbdbd" points="609.8,268.1 606.6,268.9 604.8,271.7 608,270.9"/>
<polygon fill="#c2c2c2" points="540,264.5 540.7,267 543.1,268.1 542.3,265.6"/>
<polygon fill="#bcbcbc" points="581.7,264.6 578.9,267.9 578.4,272.1 581.1,268.8"/>
<polygon fill="#cfcfcf" points="538.7,256.5 540.2,259.3 543.1,261 541.5,258.1"/>
<polygon fill="#cecece" points="600.8,276.1 598.1,279.9 598.4,284.6 601.1,280.8"/>
<polygon fill="#bfbfbf" points="602.7,274.5 606.1,277.2 610.5,276.9 607,274.3"/>
<polygon fill="#cecece" points="561.2,266.8 557.5,267.6 555.1,270.6 558.8,269.8"/>
<polygon fill="#c6c6c6" points="623.8,278.9 622.6,282.2 623.1,285.6 624.3,282.3"/>
<polygon fill="#cdcdcd" points="561.6,262.6 558.6,267.2 558.8,272.7 561.8,268.1"/>
<polygon fill="#bebebe" points="606.3,268.5 607.3,270.7 609.5,271.7 608.5,269.5"/>
<polygon fill="#cacaca" points="607.1,263.2 604,266.5 604.7,270.9 607.7,267.6"/>
<polygon fill="#cecece" points="620.8,281.5 616.5,281.2 613.1,283.7 617.4,284"/>
<polygon fill="#bbbbbb" points="558.6,273.3 556.1,274.2 554.4,276.2 556.9,275.4"/>
<polygon fill="#c2c2c2" points="540.1,265.7 536.7,267 534.7,270 538.1,268.7"/>
<polygon fill="#bfbfbf" points="592.8,275.9 596,279.6 600.9,279.9 597.7,276.3"/>
<polygon fill="#cecece" points="542.6,271.4 545.5,273.3 548.9,273 546,271.1"/>
<polygon fill="#cacaca" points="576.1,263.8 571.1,263.5 566.7,265.8 571.6,266"/>
<polygon fill="#c4c4c4" points="531.6,268.1 531,270.5 532.4,272.6 533,270.2"/>
<polygon fill="#cacaca" points="592.6,275.6 591,279.6 592.4,283.8 594.1,279.7"/>
<polygon fill="#bbbbbb" points="643.2,267.4 643.3,271.4 646.6,273.8 646.4,269.8"/>
<polygon fill="#c3c3c3" points="647.8,260.5 645.1,265.5 647.1,270.9 649.9,265.9"/>
<polygon fill="#cecece" points="602.6,279.3 599.4,280.3 598.2,283.4 601.4,282.5"/>
<polygon fill="#bfbfbf" points="626.9,276.2 630,278.7 634.1,279.1 630.9,276.5"/>
<polygon fill="#c8c8c8" points="554.6,272.5 558.5,274.5 562.6,273.2 558.7,271.2"/>
<polygon fill="#c4c4c4" points="618.9,271.3 616.4,272.6 615.7,275.2 618.1,274"/>
<polygon fill="#cecece" points="589.2,273.9 589.9,278.5 593.5,281.4 592.8,276.8"/>
<polygon fill="#bbbbbb" points="550.2,268 549,272.9 550.9,277.5 552.1,272.6"/>
<polygon fill="#cacaca" points="563.2,270.1 559.7,269.5 556.5,271 560,271.5"/>
<polygon fill="#c2c2c2" points="568.2,268 563.9,268 560.4,270.4 564.7,270.5"/>
<polygon fill="#b8b8b8" points="325.1,356.1 327.8,358 331,357.2 328.3,355.3"/>
<polygon fill="#b9b9b9" points="298.6,395.5 298.7,399.3 301.8,401.6 301.7,397.8"/>
<polygon fill="#b7b7b7" points="356.1,467.1 355.5,470.2 356.9,473 357.6,469.9"/>
<polygon fill="#bfbfbf" points="399.1,544.7 395.2,544.5 392.7,547.6 396.6,547.7"/>
<polygon fill="#bfbfbf" points="326.8,418.5 322.9,421 321.2,425.2 325.1,422.7"/>
<polygon fill="#bababa" points="315.9,345.5 317,351 322,353.6 320.9,348.1"/>
<polygon fill="#bebebe" points="296.4,348 293,347.9 290.2,349.9 293.6,350"/>
<polygon fill="#c4c4c4" points="365,497.8 361.2,498 359,501.1 362.8,500.9"/>
<polygon fill="#c9c9c9" points="321.4,294.7 320.4,297.5 321.4,300.2 322.4,297.5"/>
<polygon fill="#c3c3c3" points="404.2,566.5 400.5,567.7 398.6,571.2 402.4,570"/>
<polygon fill="#c2c2c2" points="438.2,636.2 438.5,640.7 441.4,644.1 441.1,639.7"/>
<polygon fill="#c7c7c7" points="408.4,600.8 404.6,601.1 401.8,603.7 405.6,603.4"/>
<polygon fill="#c8c8c8" points="402.3,599 399.3,598.1 396.3,599.3 399.3,600.1"/>
<polygon fill="#c7c7c7" points="358,527.3 361.1,528.9 364.5,528.5 361.4,526.9"/>
<polygon fill="#c4c4c4" points="418.4,687.7 420.7,689.3 423.5,689.3 421.3,687.6"/>
<polygon fill="#c2c2c2" points="411.3,640.4 409.1,641.4 407.8,643.3 410,642.4"/>
<polygon fill="#c2c2c2" points="414.2,638.5 413.6,642.1 416.1,644.7 416.7,641.1"/>
<polygon fill="#c1c1c1" points="404.2,606.7 399.6,606.2 395.8,608.9 400.4,609.3"/>
<polygon fill="#c3c3c3" points="302.6,337.7 307.3,341.2 313,339.7 308.3,336.2"/>
<polygon fill="#b8b8b8" points="302.1,334.4 299.5,334.4 297.5,336.2 300.1,336.1"/>
<polygon fill="#bdbdbd" points="344,466.1 343.3,470 345.8,473 346.5,469.2"/>
<polygon fill="#bbbbbb" points="419.9,585.2 422.6,587.9 426.2,589 423.6,586.2"/>
<polygon fill="#c3c3c3" points="436.3,647 432.8,647.1 430,649.1 433.4,649"/>
<polygon fill="#bebebe" points="408.4,615.1 405.4,619.4 405.4,624.6 408.4,620.3"/>
<polygon fill="#bcbcbc" points="375.6,556.7 376.3,561.4 380.4,563.9 379.7,559.1"/>
<polygon fill="#bdbdbd" points="396.9,573.1 397,577.2 399.3,580.6 399.1,576.5"/>
<polygon fill="#bbbbbb" points="367.5,504.7 369.5,509.7 374.3,512.4 372.3,507.3"/>
<polygon fill="#bfbfbf" points="342.1,478.6 340.2,482.2 341.8,485.9 343.7,482.3"/>
<polygon fill="#c2c2c2" points="435.6,677.6 436.6,680.5 439.2,682.2 438.2,679.2"/>
<polygon fill="#bdbdbd" points="447.2,663.5 446.9,667.2 449.6,669.6 449.9,666"/>
<polygon fill="#b9b9b9" points="277.5,366.5 274.5,370.4 275.5,375.3 278.5,371.3"/>
<polygon fill="#bfbfbf" points="316,473.9 310.7,474.3 307.5,478.7 312.9,478.2"/>
<polygon fill="#c2c2c2" points="333.6,445.3 328.1,445.8 324.4,450 329.9,449.5"/>
<polygon fill="#bcbcbc" points="385.4,578.7 387.7,580.1 390.3,579.3 388,577.9"/>
<polygon fill="#c4c4c4" points="424.2,605.1 422.2,608.4 423,612.2 425,608.9"/>
<polygon fill="#b8b8b8" points="429.9,673.2 427.3,672.9 425.1,674.4 427.7,674.7"/>
<polygon fill="#c8c8c8" points="300.7,343.5 303.3,346.4 307.1,346.9 304.6,344"/>
<polygon fill="#b6b6b6" points="300.1,386.4 298.6,390.2 299.9,394.1 301.4,390.3"/>
<polygon fill="#c9c9c9" points="413,599 414.7,601.3 417.6,601.7 415.9,599.4"/>
<polygon fill="#c5c5c5" points="455.9,675.6 454.7,679.9 456,684.1 457.1,679.8"/>
<polygon fill="#b7b7b7" points="398.7,562.9 393.5,564.8 391.4,569.9 396.7,568.1"/>
<polygon fill="#b7b7b7" points="334.3,427.2 331.5,426.6 328.9,427.7 331.7,428.3"/>
<polygon fill="#c8c8c8" points="322.7,417.7 325.3,421.5 329.9,421.9 327.3,418.1"/>
<polygon fill="#bfbfbf" points="350.3,486.2 350,490.4 351.9,494.1 352.2,489.9"/>
<polygon fill="#bebebe" points="340.4,414.1 337.8,414.7 336.6,417.1 339.1,416.4"/>
<polygon fill="#b6b6b6" points="340.8,483.2 345.1,485.9 350,484.8 345.7,482.1"/>
<polygon fill="#c9c9c9" points="414.2,638.6 414.1,642.5 417.1,645 417.3,641.1"/>
<polygon fill="#c2c2c2" points="446.6,672.6 444.2,674.3 443.7,677.2 446.1,675.5"/>
<polygon fill="#bdbdbd" points="290.2,331.2 291.9,334.7 295.8,335.7 294,332.2"/>
<polygon fill="#b7b7b7" points="362.9,559.1 367.7,560.6 372.6,559.6 367.8,558.1"/>
<polygon fill="#b7b7b7" points="398.1,583.1 394.2,586.2 392.2,590.8 396.2,587.7"/>
<polygon fill="#bcbcbc" points="378.2,504.8 379.1,507.5 381.6,508.9 380.7,506.2"/>
<polygon fill="#c2c2c2" points="427.2,596.8 427.5,600.3 430.4,602.4 430.1,598.8"/>
<polygon fill="#bababa" points="387.6,588.7 387.4,591.2 389.3,593 389.5,590.4"/>
<polygon fill="#c2c2c2" points="440.8,688.7 440.9,694.3 445.1,697.9 445.1,692.3"/>
<polygon fill="#b8b8b8" points="437.8,678.7 433,680.5 431.4,685.3 436.2,683.6"/>
<polygon fill="#c0c0c0" points="366.2,467.3 362,467.5 358.4,469.9 362.7,469.7"/>
<polygon fill="#b9b9b9" points="410.2,600.6 405.8,600.7 402.3,603.2 406.6,603.1"/>
<polygon fill="#bfbfbf" points="344,448.1 339.4,446.2 334.9,448.3 339.5,450.2"/>
<polygon fill="#c1c1c1" points="330.3,452.3 327.8,456.8 328.5,461.9 331,457.4"/>
<polygon fill="#bababa" points="342,517.3 340.4,519.4 340.9,522 342.6,519.9"/>
<polygon fill="#c4c4c4" points="395.7,598.3 392.6,598.4 390.4,600.5 393.5,600.4"/>
<polygon fill="#c4c4c4" points="381.2,539.8 377.1,538.2 373.1,539.8 377.1,541.3"/>
<polygon fill="#bbbbbb" points="327,460.9 327.9,464.5 331,466.5 330.1,462.9"/>
<polygon fill="#bfbfbf" points="386.2,532.9 384.3,536.2 385.2,540 387.1,536.6"/>
<polygon fill="#bdbdbd" points="312.6,443.1 313.8,446.4 316.7,448.4 315.5,445.1"/>
<polygon fill="#b6b6b6" points="389.2,520.9 387.8,525 388.7,529.1 390,525.1"/>
<polygon fill="#c3c3c3" points="442.5,671 443.6,674 446.6,675.3 445.4,672.4"/>
<polygon fill="#c4c4c4" points="322.9,458.6 327.2,461.1 332.1,461 327.8,458.5"/>
<polygon fill="#c1c1c1" points="400.8,594.6 399.6,598.6 401.3,602.3 402.5,598.4"/>
<polygon fill="#b8b8b8" points="377.4,515.9 374.2,514.6 371.2,516.1 374.4,517.4"/>
<polygon fill="#c0c0c0" points="406.2,664 406.2,669 408.7,673.3 408.7,668.3"/>
<polygon fill="#c7c7c7" points="356.4,494.7 353.7,499.8 355.9,505.2 358.5,500"/>
<polygon fill="#c9c9c9" points="375.7,563.7 371.3,565.1 368.5,568.7 372.9,567.3"/>
<polygon fill="#b6b6b6" points="429.7,626 425.6,627.7 423.9,631.8 428,630.1"/>
<polygon fill="#bfbfbf" points="361.7,511.8 364.1,514.7 367.7,515.8 365.3,512.9"/>
<polygon fill="#b8b8b8" points="446.6,688.3 441.3,688 437,691.1 442.3,691.3"/>
<polygon fill="#c5c5c5" points="429.2,650.2 424.5,650.2 420.9,653.3 425.6,653.4"/>
<polygon fill="#b9b9b9" points="416.9,625.5 414.3,626.4 412.9,628.8 415.5,627.8"/>
<polygon fill="#bfbfbf" points="405,569.9 401.3,569.7 398.8,572.3 402.4,572.5"/>
<polygon fill="#c3c3c3" points="383.4,534.8 382.8,537.2 384,539.4 384.6,537"/>
<polygon fill="#bebebe" points="296.2,348 299.2,348.8 302.3,348.1 299.2,347.2"/>
<polygon fill="#c1c1c1" points="298.2,374 296.4,378.7 298.8,383.1 300.6,378.4"/>
<polygon fill="#c8c8c8" points="300.9,329.3 302.3,331.5 304.6,332.5 303.2,330.4"/>
<polygon fill="#bdbdbd" points="402,609.2 400.8,613.4 401.8,617.5 403,613.4"/>
<polygon fill="#b8b8b8" points="319.1,319.5 321.5,321.3 324.5,321.2 322.1,319.3"/>
<polygon fill="#bfbfbf" points="420.2,616.9 422.7,620.4 426.9,621.5 424.4,618"/>
<polygon fill="#bcbcbc" points="291.5,327.8 285.7,327.9 281.9,332.2 287.7,332.1"/>
<polygon fill="#c2c2c2" points="362.7,516.1 361.2,519.9 362.9,523.6 364.4,519.8"/>
<polygon fill="#bdbdbd" points="415.1,654.3 418.8,656.3 422.7,654.6 418.9,652.5"/>
</g>
<g filter="url(#b3)">
<polyline fill="none" stroke="#f5f5f5" stroke-width="10" stroke-linecap="round" stroke-linejoin="round" points="530,1150 533,1165 532,1180 524,1188 510,1196 495,1207 476,1220 468,1230 450,1238 432,1248 422,1258 410,1264"/>
<ellipse fill="#f5f5f5" cx="525" cy="1150" rx="14" ry="9"/>
<polygon fill="#dbdbdb" points="556,1096 590,1100 602,1093 575,1125 560,1134 550,1131 556,1118"/>
<polyline fill="none" stroke="#f2f2f2" stroke-width="6" stroke-linecap="round" stroke-linejoin="round" points="690,1040 668,1050 648,1057 630,1061"/>
<polyline fill="none" stroke="#1a1a1a" stroke-width="3" stroke-linecap="round" stroke-linejoin="round" points="541,1163 545,1166 541,1181 534,1190 523,1194"/>
<polyline fill="none" stroke="#1a1a1a" stroke-width="3" stroke-linecap="round" stroke-linejoin="round" points="686,1049 667,1057 649,1062 637,1066"/>
<polyline fill="none" stroke="#141414" stroke-width="4" stroke-linecap="round" stroke-linejoin="round" points="788,845 780,850 776,862 776,884"/>
<polygon fill="#404040" points="795,686 815,686 815,698 797,698"/>
<polygon fill="#404040" points="790,708 805,711 799,732 785,728"/>
<polyline fill="none" stroke="#e0e0e0" stroke-width="5" stroke-linecap="round" stroke-linejoin="round" points="647,291 669,289 695,286 720,282 746,279 772,276 798,273 823,269 849,265 875,260 900,251 920,240 938,226 948,218 951,206 952,196 955,188"/>
</g>
<g filter="url(#b7)">
<polygon fill="#ffffff" points="333,270 390,272 420,282 445,272 482,285 492,320 470,346 431,342 401,328 358,312 333,296"/>
<polygon fill="#ffffff" points="425,374 460,358 483,338 504,320 524,296 562,290 592,294 640,286 640,302 592,312 562,320 533,318 513,332 489,358 460,378 439,384"/>
<polygon fill="#9e9e9e" points="483,350 504,332 510,343 512,355 504,370 490,378"/>
<ellipse fill="#f7f7f7" cx="555" cy="553" rx="45" ry="28" transform="rotate(20 555 553)"/>
<ellipse fill="#f5f5f5" cx="640" cy="650" rx="35" ry="60" transform="rotate(-15 640 650)"/>
<ellipse fill="#f2f2f2" cx="590" cy="730" rx="35" ry="25"/>
<ellipse fill="#f2f2f2" cx="660" cy="720" rx="25" ry="22"/>
<ellipse fill="#f5f5f5" cx="578" cy="865" rx="25" ry="28"/>
<ellipse fill="#f2f2f2" cx="765" cy="825" rx="22" ry="28"/>
<ellipse fill="#f2f2f2" cx="740" cy="865" rx="20" ry="14"/>
<ellipse fill="#f7f7f7" cx="725" cy="950" rx="26" ry="38" transform="rotate(20 725 950)"/>
<polygon fill="#ffffff" points="637,541 660,550 668,554 660,572 637,580"/>
<ellipse fill="#f7f7f7" cx="770" cy="680" rx="30" ry="22"/>
<ellipse fill="#f2f2f2" cx="630" cy="1056" rx="22" ry="8" transform="rotate(-20 630 1056)"/>
</g>
</g>
<use href="#land"/>
</g>
<use href="#grid"/>
<use href="#frame"/>
<use href="#axl"/>
<text x="183.8" y="1410.6" font-size="35" text-anchor="end">19°44'0"E</text>
<text x="951.3" y="1175.5" font-size="57.5" text-anchor="end">Land Area</text>
<text x="962.8" y="1249.8" font-size="56.4" text-anchor="end">37.2724, 119.8064</text>
<text x="852.5" y="1336.9" font-size="74" letter-spacing="2">(A)</text>
<text x="295.5" y="86.2" font-size="66.4">R<tspan font-size="36.9" dy="19">rs</tspan><tspan dy="-19"> at 665 nm (Sr</tspan><tspan font-size="38.8" dy="-22.2">−1</tspan><tspan dy="22.2">)</tspan></text>
<rect x="1005.4" y="105.4" width="40.2" height="1272.2" fill="url(#cb)" stroke="#333" stroke-width="1"/>
<path d="M1032 1160.9H1045.5M1032 944.3H1045.5M1032 727.7H1045.5M1032 511.1H1045.5M1032 294.5H1045.5" stroke="#222" stroke-width="1.3" fill="none"/>
<g font-size="43" text-anchor="middle">
<text x="1069.8" y="1391.2">0</text>
<text x="1069.8" y="1175.1">2</text>
<text x="1069.8" y="958.5">4</text>
<text x="1069.8" y="741.9">6</text>
<text x="1069.8" y="525.3">8</text>
<text x="1069.8" y="308.7">10</text>
</g>
<text x="1025.3" y="97.5" font-size="41.5">×10<tspan font-size="23" dy="-15">−3</tspan></text>
</g>
<g transform="translate(1133.3 0)">
<g clip-path="url(#pc)">
<g filter="url(#cmB)">
<rect x="92.5" y="119" width="880.5" height="1247" fill="#4e4e4e"/>
<g filter="url(#b35)">
<polygon fill="#5c5c5c" points="284.2,86.4 290,236.3 290,293.9 313,409.2 336.1,524.5 353.4,639.7 353.4,755 266.9,870.3 59.4,956.7 59.4,1043.2 59.4,1129.6 59.4,1216.1 59.4,1400.5 1073.8,1400.5 1073.8,86.4"/>
<polygon fill="#6b6b6b" points="313,86.4 318.8,236.3 313,293.9 336.1,409.2 364.9,524.5 387.9,639.7 393.7,755 324.5,870.3 128.6,956.7 59.4,1043.2 59.4,1129.6 59.4,1216.1 59.4,1400.5 1073.8,1400.5 1073.8,86.4"/>
<polygon fill="#7a7a7a" points="341.8,86.4 347.6,236.3 330.3,293.9 353.4,409.2 387.9,524.5 416.8,639.7 428.3,755 382.2,870.3 238.1,956.7 94,1043.2 59.4,1129.6 59.4,1216.1 59.4,1400.5 1073.8,1400.5 1073.8,86.4"/>
<polygon fill="#8a8a8a" points="364.9,86.4 364.9,236.3 341.8,293.9 370.7,409.2 411,524.5 445.6,639.7 451.3,755 428.3,870.3 336.1,956.7 209.3,1043.2 94,1129.6 59.4,1216.1 59.4,1400.5 1073.8,1400.5 1073.8,86.4"/>
<polygon fill="#999999" points="393.7,86.4 382.2,236.3 353.4,293.9 387.9,409.2 434.1,524.5 468.6,639.7 468.6,755 468.6,870.3 405.2,956.7 313,1043.2 180.5,1129.6 59.4,1216.1 59.4,1400.5 1073.8,1400.5 1073.8,86.4"/>
<polygon fill="#535353" points="336.1,86.4 1016.2,86.4 1016.2,282.4 612.7,276.6 439.8,265.1 353.4,247.8"/>
<polygon fill="#5e5e5e" points="497.5,219 670.4,207.5 843.3,190.2 935.5,167.1 1016.2,167.1 1016.2,293.9 497.5,293.9"/>
</g>
<g filter="url(#b30)">
<ellipse fill="#808080" cx="459.3" cy="1218.7" rx="41.9" ry="60.9" transform="rotate(35 459.3 1218.7)"/>
</g>
<g filter="url(#b20)">
<polygon fill="#b2b2b2" points="417.5,417.8 455.5,463.5 459.3,520.6 474.6,558.6 505,615.7 512.6,672.8 493.6,729.9 474.6,761.1 779,761.1 779,463.5 512.6,387.4"/>
<polygon fill="#b6b6b6" points="474.6,705 474.6,800.1 493.6,876.2 531.6,933.3 550.7,990.4 588.7,990.4 626.8,952.3 683.9,933.3 721.9,895.3 779,876.2 779,705"/>
<polygon fill="#b2b2b2" points="55.9,1173.1 151.1,1192.1 215.8,1230.1 246.2,1287.2 257.6,1409 55.9,1409"/>
<ellipse fill="#a8a8a8" cx="455.5" cy="982.8" rx="41.9" ry="34.3" transform="rotate(30 455.5 982.8)"/>
<ellipse fill="#999999" cx="687.7" cy="811.5" rx="19" ry="64.7" transform="rotate(10 687.7 811.5)"/>
</g>
<g filter="url(#b14)">
<polygon fill="#d1d1d1" points="459.3,493.9 497.4,474.9 558.3,505.4 588.7,539.6 626.8,585.3 657.2,615.7 687.7,611.9 721.9,611.9 733.3,653.8 725.7,691.8 702.9,729.9 664.8,748.9 626.8,761.1 531.6,761.1 512.6,672.8 493.6,615.7 474.6,558.6"/>
<ellipse fill="#cccccc" cx="569.7" cy="857.2" rx="41.9" ry="41.9" transform="rotate(40 569.7 857.2)"/>
<polygon fill="#d1d1d1" points="55.9,1275.8 151.1,1294.8 189.1,1332.9 208.2,1409 55.9,1409"/>
<ellipse fill="#cccccc" cx="710.5" cy="857.2" rx="26.6" ry="45.7"/>
</g>
<g filter="url(#b8)">
<polygon fill="#cccccc" points="337.6,280.8 383.2,278.9 436.5,288.4 455.5,280.8 474.6,299.9 478.4,330.3 459.3,341.7 428.9,334.1 398.4,318.9 360.4,299.9"/>
<polygon fill="#c7c7c7" points="425.1,368.4 459.3,337.9 497.4,311.3 524,292.3 588.7,292.3 588.7,303.7 531.6,315.1 505,337.9 474.6,364.6 440.3,383.6"/>
</g>
<g filter="url(#b5)">
<polygon fill="#f7f7f7" points="337.6,280.8 360.4,284.6 383.2,282.7 417.5,296.1 436.5,299.9 447.9,284.6 466.9,299.9 474.6,326.5 459.3,334.1 436.5,322.7 417.5,311.3 398.4,299.9 360.4,292.3"/>
<polygon fill="#f7f7f7" points="425.1,364.6 444.1,349.3 474.6,337.9 497.4,318.9 520.2,296.1 550.7,296.1 588.7,299.9 626.8,288.4 683.9,284.6 744,280.8 744,285.4 626.8,296.8 569.7,308.2 531.6,312 508.8,330.3 486,349.3 459.3,364.6 436.5,379.8"/>
<polyline fill="none" stroke="#e6e6e6" stroke-width="3" stroke-linecap="round" stroke-linejoin="round" points="744,282.4 817.1,273.2 893.2,261.8 969.3,242.8 1015,219.9 1037.8,197.1 1045.4,170.5"/>
<polygon fill="#d9d9d9" points="512.6,364.6 531.6,364.6 550.7,372.2 531.6,387.4 520.2,410.2 497.4,425.4 489.8,410.2"/>
<polygon fill="#f7f7f7" points="486,520.6 512.6,516.8 531.6,532 558.3,547.2 554.5,577.7 531.6,577.7 508.8,558.6 489.8,539.6"/>
<polygon fill="#ffffff" points="634.4,535.8 680.1,535.8 680.1,589.1 634.4,589.1"/>
<polygon fill="#f7f7f7" points="619.2,577.7 657.2,589.1 664.8,615.7 642,615.7 619.2,600.5"/>
<polygon fill="#ededed" points="634.4,672.8 657.2,672.8 661,729.9 638.2,729.9"/>
<polygon fill="#f7f7f7" points="687.7,921.9 779,906.7 779,967.6 702.9,1013.2 676.3,1020.8 657.2,1013.2 680.1,959.9"/>
<polygon fill="#ededed" points="676.3,1024.6 687.7,1051.3 626.8,1070.3 588.7,1093.1 565.9,1104.6 600.1,1066.5 638.2,1039.9"/>
<polygon fill="#f2f2f2" points="558.3,1096.9 596.3,1085.5 604,1108.4 573.5,1131.2 546.9,1138.8"/>
<polygon fill="#f2f2f2" points="510.7,1136.9 541.2,1146.4 546.9,1167.4 525.9,1195.9 506.9,1182.6"/>
<polyline fill="none" stroke="#f2f2f2" stroke-width="12.9" stroke-linecap="round" stroke-linejoin="round" points="512.6,1194 459.3,1232 409.9,1266.3"/>
<polyline fill="none" stroke="#ededed" stroke-width="9.9" stroke-linecap="round" stroke-linejoin="round" points="360.4,1296.7 326.1,1308.2"/>
<polygon fill="#f2f2f2" points="752,648 790,650 800,690 752,700"/>
<polygon fill="#404040" points="795,686 815,686 815,698 797,698"/>
<polygon fill="#404040" points="790,708 805,711 799,732 785,728"/>
</g>
</g>
<use href="#land"/>
</g>
<use href="#grid"/>
<use href="#frame"/>
<use href="#axl"/>
<text x="183.8" y="1410.6" font-size="35" text-anchor="end">119°44'0"E</text>
<text x="951.6" y="1153.3" font-size="57.5" text-anchor="end">Land Area</text>
<text x="964.1" y="1249.8" font-size="56.4" text-anchor="end">37.2724, 119.8064</text>
<text x="853.7" y="1336" font-size="74" letter-spacing="2">(B)</text>
<text x="316.2" y="86.2" font-size="66.4">R<tspan font-size="36.9" dy="19">rs</tspan><tspan dy="-19"> at 865 nm (Sr</tspan><tspan font-size="38.8" dy="-22.2">−1</tspan><tspan dy="22.2">)</tspan></text>
<rect x="1005.4" y="105.8" width="40.2" height="1271.8" fill="url(#cb)" stroke="#333" stroke-width="1"/>
<path d="M1032 1189H1045.5M1032 1001.3H1045.5M1032 813.5H1045.5M1032 625.8H1045.5M1032 438H1045.5M1032 250.3H1045.5" stroke="#222" stroke-width="1.3" fill="none"/>
<g font-size="43" text-anchor="start">
<text x="1053.4" y="1390.5">0</text>
<text x="1053.4" y="1201.2">1</text>
<text x="1053.4" y="1013.5">2</text>
<text x="1053.4" y="825.8">3</text>
<text x="1053.4" y="638">4</text>
<text x="1053.4" y="450.2">5</text>
<text x="1053.4" y="262.5">6</text>
</g>
<text x="1030.3" y="97.5" font-size="41.5">×10<tspan font-size="23" dy="-15">−3</tspan></text>
</g>
<g transform="translate(0 1450.6)">
<g clip-path="url(#pc)">
<g filter="url(#cmC)">
<rect x="92.5" y="119" width="880.5" height="1247" fill="#7c7c7c"/>
<g filter="url(#b35)">
<polygon fill="#787878" points="59.4,86.4 209.3,86.4 197.7,293.9 151.6,466.8 59.4,582.1"/>
<polygon fill="#808080" points="266.9,86.4 266.9,178.6 261.1,236.3 255.4,282.4 220.8,409.2 163.2,524.5 94,639.7 59.4,755 59.4,841.5 59.4,899.1 59.4,956.7 59.4,1014.4 59.4,1100.8 59.4,1216.1 59.4,1400.5 1073.8,1400.5 1073.8,86.4"/>
<polygon fill="#8f8f8f" points="353.4,86.4 347.6,178.6 336.1,236.3 313,282.4 266.9,409.2 220.8,524.5 163.2,639.7 122.8,755 59.4,841.5 59.4,899.1 59.4,956.7 59.4,1014.4 59.4,1100.8 59.4,1216.1 59.4,1400.5 1073.8,1400.5 1073.8,86.4"/>
<polygon fill="#9e9e9e" points="497.5,86.4 485.9,178.6 451.3,236.3 347.6,282.4 336.1,409.2 324.5,524.5 295.7,639.7 295.7,755 209.3,841.5 122.8,899.1 59.4,956.7 59.4,1014.4 59.4,1100.8 59.4,1216.1 59.4,1400.5 1073.8,1400.5 1073.8,86.4"/>
<polygon fill="#adadad" points="370.7,282.4 382.2,409.2 416.8,524.5 474.4,639.7 468.6,755 462.9,841.5 393.7,899.1 226.6,956.7 140.1,1014.4 59.4,1100.8 59.4,1216.1 59.4,1400.5 1073.8,1400.5 1073.8,282.4"/>
<polygon fill="#bdbdbd" points="497.5,282.4 439.8,409.2 462.9,524.5 520.5,639.7 520.5,755 532,841.5 526.3,899.1 497.5,956.7 324.5,1014.4 151.6,1100.8 59.4,1216.1 59.4,1400.5 1073.8,1400.5 1073.8,282.4"/>
<polygon fill="#c9c9c9" points="555.1,282.4 485.9,409.2 509,524.5 566.6,639.7 583.9,755 612.7,841.5 641.6,899.1 612.7,956.7 555.1,1014.4 468.6,1100.8 324.5,1216.1 151.6,1400.5 1073.8,1400.5 1073.8,282.4"/>
<polygon fill="#adadad" points="583.9,86.4 1016.2,86.4 1016.2,293.9 520.5,293.9 532,207.5"/>
<polygon fill="#a7a7a7" points="756.8,236.3 843.3,190.2 912.4,207.5 889.4,253.6 785.6,276.6"/>
</g>
<g filter="url(#b20)">
<polygon fill="#b4b4b4" points="284.2,322.7 341.8,285.3 416.8,288.1 497.5,293.9 520.5,317 497.5,380.4 439.8,397.7 393.7,391.9 347.6,363.1 313,351.5"/>
<ellipse fill="#999999" cx="417.5" cy="876.2" rx="72.3" ry="38.1" transform="rotate(-10 417.5 876.2)"/>
<ellipse fill="#999999" cx="109.2" cy="990.4" rx="30.4" ry="49.5"/>
<ellipse fill="#cccccc" cx="109.2" cy="1218.7" rx="45.7" ry="152.2"/>
<ellipse fill="#cccccc" cx="265.3" cy="1161.6" rx="57.1" ry="95.1" transform="rotate(20 265.3 1161.6)"/>
<polyline fill="none" stroke="#cccccc" stroke-width="34.3" stroke-linecap="round" stroke-linejoin="round" points="512.6,318.9 626.8,288.4 744,273.2 855.1,261.8 950.3,239 1007.3,208.5 1045.4,166.7 1053,121"/>
</g>
<g filter="url(#b8)">
<polyline fill="none" stroke="#fafafa" stroke-width="12.9" stroke-linecap="round" stroke-linejoin="round" points="512.6,326.5 626.8,298 744,282.7 855.1,271.3 950.3,250.4 1007.3,218 1041.6,174.3 1049.2,121"/>
<polygon fill="#fafafa" points="721.9,906.7 779,906.7 779,990.4 702.9,1013.2 680.1,1024.6 687.7,1047.5 657.2,1058.9 626.8,1047.5 664.8,990.4 702.9,952.3"/>
<polygon fill="#fafafa" points="493.6,1074.1 569.7,1066.5 600.1,1085.5 569.7,1142.6 543.1,1180.7 512.6,1161.6 493.6,1123.6"/>
<polyline fill="none" stroke="#fafafa" stroke-width="19" stroke-linecap="round" stroke-linejoin="round" points="531.6,1173.1 474.6,1218.7 413.7,1264.4"/>
<polyline fill="none" stroke="#fafafa" stroke-width="15.2" stroke-linecap="round" stroke-linejoin="round" points="360.4,1294.8 318.5,1310.1"/>
<polygon fill="#ffffff" points="634.4,535.8 687.7,528.2 680.1,589.1 634.4,589.1"/>
<polygon fill="#f7f7f7" points="702.9,608.1 744,600.5 748.6,653.8 718.1,653.8"/>
<polygon fill="#f2f2f2" points="752,648 800,650 810,730 752,720"/>
</g>
</g>
<use href="#land"/>
</g>
<use href="#grid"/>
<use href="#frame"/>
<use href="#axl"/>
<text x="183.8" y="1410.6" font-size="35" text-anchor="end">19°44'0"E</text>
<text x="951.3" y="1170" font-size="57.5" text-anchor="end">Land Area</text>
<text x="962.8" y="1253.1" font-size="56.4" text-anchor="end">37.2724, 119.8064</text>
<text x="843.4" y="1335.3" font-size="74" letter-spacing="2">(C)</text>
<text x="323.5" y="86.2" font-size="63.5">a at 560 nm (m<tspan font-size="37.1" dy="-22.2">−1</tspan><tspan dy="22.2">)</tspan></text>
<rect x="1005.4" y="106.5" width="40.2" height="1271.1" fill="url(#cb)" stroke="#333" stroke-width="1"/>
<path d="M1032 1244.4H1045.5M1032 1110.2H1045.5M1032 976H1045.5M1032 841.8H1045.5M1032 707.6H1045.5M1032 573.4H1045.5M1032 439.2H1045.5M1032 305H1045.5M1032 170.8H1045.5" stroke="#222" stroke-width="1.3" fill="none"/>
<g font-size="43" text-anchor="start">
<text x="1053.4" y="1396.8">0</text>
<text x="1053.4" y="1260.6">0.05</text>
<text x="1053.4" y="1126.4">0.10</text>
<text x="1053.4" y="992.2">0.15</text>
<text x="1053.4" y="858">0.20</text>
<text x="1053.4" y="723.8">0.25</text>
<text x="1053.4" y="589.6">0.30</text>
<text x="1053.4" y="455.4">0.35</text>
<text x="1053.4" y="321.2">0.40</text>
<text x="1053.4" y="187">0.45</text>
</g>
</g>
<g transform="translate(1133.3 1450.6)">
<g clip-path="url(#pc)">
<g filter="url(#cmD)">
<rect x="92.5" y="119" width="880.5" height="1247" fill="#bababa"/>
<g filter="url(#b35)">
<polygon fill="#b6b6b6" points="140.1,86.4 313,86.4 295.7,409.2 266.9,697.4 209.3,899.1 94,985.6 59.4,985.6 59.4,466.8"/>
<polygon fill="#b4b4b4" points="180.5,86.4 266.9,86.4 255.4,409.2 220.8,697.4 151.6,841.5 117.1,697.4 151.6,351.5"/>
<polygon fill="#bfbfbf" points="382.2,86.4 370.7,236.3 364.9,293.9 353.4,409.2 364.9,524.5 382.2,639.7 411,755 411,870.3 353.4,985.6 266.9,1100.8 151.6,1216.1 59.4,1302.6 59.4,1400.5 1073.8,1400.5 1073.8,86.4"/>
<polygon fill="#c9c9c9" points="497.5,86.4 468.6,236.3 451.3,293.9 428.3,409.2 451.3,524.5 468.6,639.7 497.5,755 497.5,870.3 439.8,985.6 353.4,1100.8 209.3,1216.1 94,1302.6 59.4,1400.5 1073.8,1400.5 1073.8,86.4"/>
<polygon fill="#d6d6d6" points="641.6,86.4 612.7,236.3 532,293.9 491.7,409.2 543.6,524.5 583.9,639.7 612.7,755 641.6,870.3 612.7,985.6 468.6,1100.8 353.4,1216.1 180.5,1302.6 59.4,1400.5 1073.8,1400.5 1073.8,86.4"/>
</g>
<g filter="url(#b25)">
<polygon fill="#e6e6e6" points="670.4,639.7 699.2,755 728,870.3 699.2,985.6 526.3,1100.8 439.8,1216.1 266.9,1302.6 151.6,1400.5 1073.8,1400.5 1073.8,639.7"/>
<polygon fill="#f5f5f5" points="716.5,639.7 728,985.6 485.9,1216.1 324.5,1302.6 209.3,1400.5 1073.8,1400.5 1073.8,639.7"/>
<polygon fill="#e6e6e6" points="870,100 990,100 990,300 600,300 620,272 700,238 760,212 800,182 835,150 855,120"/>
<ellipse fill="#ededed" cx="705" cy="651.3" rx="34.6" ry="51.9"/>
<polygon fill="#f2f2f2" points="681.9,916.4 751.1,916.4 745.3,974 681.9,1020.1 641.6,1031.7"/>
<ellipse fill="#f2f2f2" cx="509" cy="1175.8" rx="51.9" ry="34.6" transform="rotate(-30 509 1175.8)"/>
<polyline fill="none" stroke="#f2f2f2" stroke-width="23.1" stroke-linecap="round" stroke-linejoin="round" points="543.6,1152.7 497.5,1204.6 439.8,1244.9 382.2,1279.5"/>
<polygon fill="#f7f7f7" points="59.4,1273.7 180.5,1291 255.4,1400.5 59.4,1400.5"/>
</g>
<g filter="url(#b12)">
<polygon fill="#fbfbfb" points="926,100 990,100 990,300 640,300 643,291 720,266 772,245 823,214 862,189 901,150"/>
</g>
</g>
<use href="#land"/>
</g>
<use href="#grid"/>
<use href="#frame"/>
<use href="#axl"/>
<text x="183.8" y="1410.6" font-size="35" text-anchor="end">119°44'0"E</text>
<text x="951.6" y="1167.9" font-size="57.5" text-anchor="end">Land Area</text>
<text x="964.1" y="1253.1" font-size="56.4" text-anchor="end">37.2724, 119.8064</text>
<text x="858.3" y="1333.8" font-size="74" letter-spacing="2">(D)</text>
<text x="311.6" y="86.2" font-size="66.1">a at 665 nm (m<tspan font-size="38.7" dy="-22.2">−1</tspan><tspan dy="22.2">)</tspan></text>
<rect x="1005.4" y="104.5" width="40.2" height="1273.1" fill="url(#cb)" stroke="#333" stroke-width="1"/>
<path d="M1032 1220.2H1045.5M1032 1062.9H1045.5M1032 905.6H1045.5M1032 748.3H1045.5M1032 591H1045.5M1032 433.7H1045.5M1032 276.4H1045.5M1032 119.1H1045.5" stroke="#222" stroke-width="1.3" fill="none"/>
<g font-size="43" text-anchor="start">
<text x="1053.4" y="1394.7">0</text>
<text x="1053.4" y="1235.4">0.1</text>
<text x="1053.4" y="1078.1">0.2</text>
<text x="1053.4" y="920.8">0.3</text>
<text x="1053.4" y="763.5">0.4</text>
<text x="1053.4" y="606.2">0.5</text>
<text x="1053.4" y="448.9">0.6</text>
<text x="1053.4" y="291.6">0.7</text>
<text x="1053.4" y="134.3">0.8</text>
</g>
</g>
</svg>
</body></html>
